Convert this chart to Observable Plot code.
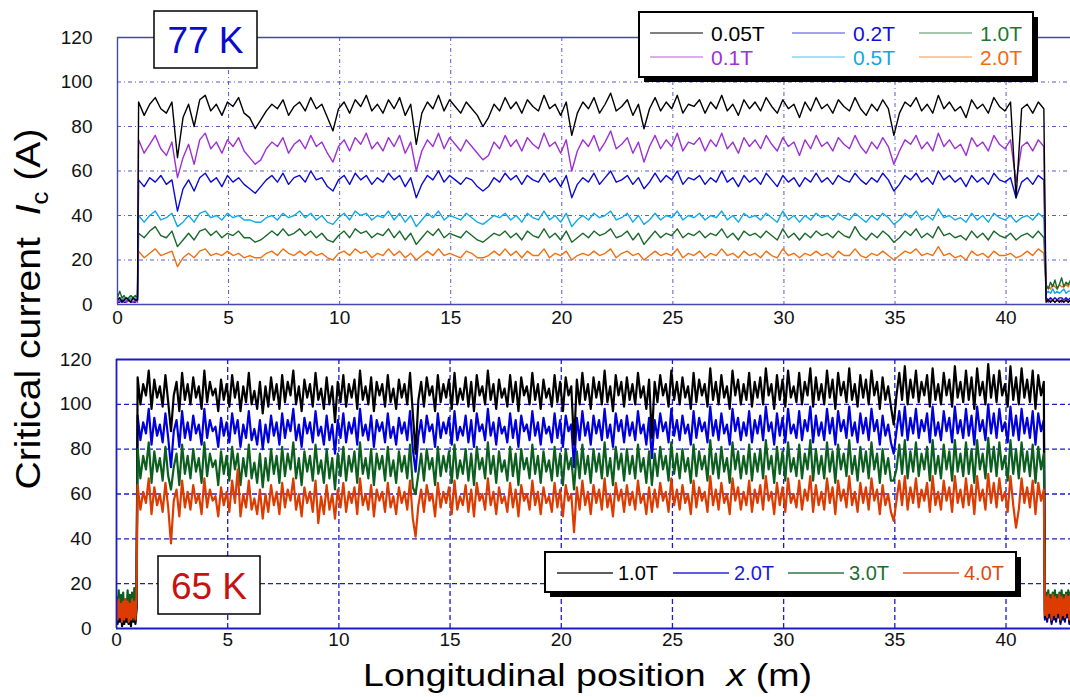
<!DOCTYPE html>
<html><head><meta charset="utf-8">
<script src="https://cdn.jsdelivr.net/npm/d3@7"></script>
<script src="https://cdn.jsdelivr.net/npm/@observablehq/plot@0.6"></script>
<style>
body{margin:0;background:#fff;font-family:Arial,"Liberation Sans",sans-serif;}
#wrap{position:relative;width:1070px;height:697px;overflow:hidden;background:#fff;}
#wrap svg{position:absolute;left:0;}
</style></head><body><div id="wrap"></div>
<script>
// ---------- axis ticks ----------
const xTicks = [0,5,10,15,20,25,30,35,40];
const yTicks = [0,20,40,60,80,100,120];
const xGridVals = [5,10,15,20,25,30,35,40];
const yGridVals = [20,40,60,80,100];

// ---------- 77 K panel: sampling grid (lead / main / tail) ----------
const top77Lead = {start: 0, step: 0.1, n: 10};
const top77Main = {start: 0.95, step: 0.25, n: 164};
const top77Tail = {start: 41.8, step: 0.1, n: 13};

// 77 K series (lead 10 + main 164 + tail 13 values)
const t77_005 = [2,3,1,2,3,2,1,3,2,2,
91,85,90,93,88,86,91,66,84,90, 80,92,94,87,90,85,91,89,93,86, 84,79,83,87,90,88,92,85,89,91, 87,93,88,90,84,78,88,91,86,92,
89,94,87,90,86,92,88,93,85,90, 72,86,91,88,94,87,92,89,86,91, 88,85,80,84,90,87,93,88,91,86, 92,89,87,94,88,90,85,91,76,86,
91,88,93,86,90,95,87,89,92,85, 90,79,88,93,87,91,88,94,86,90, 89,92,86,91,88,94,87,90,85,92, 88,91,87,93,89,86,92,88,90,84,
91,87,93,88,90,86,92,89,87,93, 88,85,90,87,92,88,76,86,91,89, 93,87,90,86,94,88,91,87,89,84, 92,88,90,86,93,89,87,91,48,88,
90,86,91,88,
1,2,1,2,1,2,1,2,1,2,1,2,1];
const t77_01 = [1,2,1,2,1,2,1,1,2,1,
74,68,72,76,70,67,73,57,66,72, 63,74,77,70,73,68,74,71,75,69, 66,63,65,70,73,71,75,68,72,74, 70,76,71,73,68,64,71,74,69,75,
72,77,70,73,69,75,71,76,68,73, 60,69,74,71,77,70,75,72,69,74, 71,68,65,67,73,70,76,71,74,69, 75,72,70,77,71,73,68,74,60,69,
74,71,76,69,73,78,70,72,75,68, 73,64,71,76,70,74,71,77,69,73, 72,75,69,74,71,77,70,73,68,75, 71,74,70,76,72,69,75,71,73,67,
74,70,76,71,73,69,75,72,70,76, 71,68,73,70,75,71,63,69,74,72, 76,70,73,69,77,71,74,70,72,67, 75,71,73,69,76,72,70,74,55,71,
73,69,74,71,
2,1,2,2,1,2,2,1,2,2,1,2,2];
const t77_02 = [1,1,2,1,1,2,1,1,1,2,
56,53,57,55,58,54,56,42,52,56, 51,57,59,55,57,53,58,55,57,54, 52,50,53,56,58,55,59,54,57,58, 55,60,56,57,53,51,56,58,54,59,
56,58,54,57,55,59,56,58,53,57, 48,54,58,56,60,55,58,56,54,57, 56,53,51,53,57,55,59,56,58,54, 58,56,55,59,55,57,53,58,48,54,
57,55,59,54,57,60,55,56,58,54, 57,52,55,59,55,58,56,60,54,57, 56,58,54,57,55,60,55,57,53,58, 55,57,54,59,56,53,58,55,57,53,
57,55,59,55,57,54,58,56,55,59, 56,54,57,55,59,56,51,54,58,56, 59,55,57,54,60,56,58,55,57,53, 58,55,57,54,59,56,55,57,48,55,
57,54,58,56,
3,2,3,2,3,2,3,3,2,3,2,3,3];
const t77_05 = [2,3,2,3,2,2,3,2,3,2,
40,37,40,42,38,39,41,35,37,40, 37,41,42,39,40,38,41,39,40,38, 38,37,37,39,40,38,41,39,40,42, 39,41,38,40,37,36,39,41,38,42,
40,41,38,40,39,42,38,41,37,40, 35,38,41,39,42,38,40,39,38,41, 39,37,36,38,40,39,41,38,40,37, 41,39,38,42,38,40,37,41,35,38,
40,38,41,39,40,42,38,39,41,37, 40,36,38,41,38,40,39,42,38,40, 39,41,38,40,39,42,38,40,37,41, 39,40,38,41,39,37,42,38,40,37,
40,38,41,39,40,38,41,39,38,41, 39,37,40,38,41,39,36,38,41,39, 42,38,40,38,43,39,40,38,39,37, 41,38,40,37,41,39,38,40,37,39,
40,38,41,39,
5,6,5,7,5,6,5,6,7,5,6,6,7];
const t77_10 = [3,6,3,4,2,3,4,3,4,3,
32,30,33,35,31,30,33,26,29,32, 29,33,34,31,33,30,32,31,33,30, 30,28,29,31,33,31,34,31,32,34, 31,33,30,32,29,28,31,33,30,34,
32,33,30,32,31,34,30,33,29,32, 27,30,33,31,34,30,32,31,30,33, 31,29,28,30,32,31,33,30,32,29, 33,31,30,34,30,32,29,33,28,30,
32,30,33,31,32,34,30,31,33,29, 32,27,30,33,30,32,31,34,30,32, 31,33,30,32,31,34,30,32,29,33, 31,32,30,33,31,29,34,30,32,29,
32,30,33,31,32,30,33,31,30,35, 31,29,32,30,33,31,28,30,33,31, 34,30,32,30,35,31,32,30,31,29, 33,30,32,29,33,31,30,32,29,31,
32,30,33,30,
9,7,10,8,11,7,9,12,8,10,9,11,12];
const t77_20 = [2,3,2,3,2,3,2,3,2,3,
24,21,23,25,22,23,24,17,21,23, 21,24,25,22,23,22,24,22,23,21, 22,21,21,23,24,22,25,23,22,24, 22,24,22,23,21,20,23,24,22,25,
23,24,21,23,22,25,22,24,21,23, 20,22,24,22,25,22,23,22,21,24, 23,21,21,22,24,22,25,22,24,21, 24,22,22,25,21,23,22,24,20,22,
23,22,24,22,23,25,21,23,24,22, 23,20,22,24,22,23,22,25,21,23, 22,24,21,23,22,25,22,23,21,24, 22,23,21,24,22,21,25,22,23,21,
23,22,24,22,23,21,24,22,22,25, 22,21,23,22,24,22,20,22,24,23, 25,22,23,22,26,22,23,21,22,20, 24,22,23,21,24,22,22,23,21,22,
24,22,25,23,
7,8,7,9,8,7,9,8,8,9,8,10,11];

// ---------- 65 K panel: sampling grid ----------
const bot65Lead = {start: 0, step: 0.05, n: 19};
const bot65Main = {start: 0.95, step: 0.125, n: 327};
const bot65Tail = {start: 41.75, step: 0.05, n: 26};

// 65 K series (lead 19 + main 327 + tail 26 values)
const b65_10 = [8,2,10,3,9,1,7,2,10,3,8,2,9,1,10,3,8,2,9,
112,100,109,104,115,98,111,103,108,99, 113,101,88,104,110,97,114,102,109,100, 112,103,108,98,115,101,110,104,107,97, 111,102,109,99,113,103,110,97,108,101,
114,100,106,98,110,96,108,99,112,102, 109,98,113,101,110,104,115,100,108,97, 111,103,109,99,114,102,107,98,112,100, 108,92,110,101,113,99,109,103,111,98,
115,102,108,100,112,97,110,104,109,99, 113,101,107,98,111,103,109,100,114,96, 78,102,110,99,112,104,108,97,113,101, 109,103,111,98,114,100,107,102,112,99,
110,97,113,104,108,100,115,102,109,98, 111,103,107,99,113,101,110,97,112,104, 108,100,114,102,109,98,111,103,107,99, 113,101,110,97,112,104,108,82,111,100,
114,102,109,98,112,103,110,100,115,101, 108,97,113,104,110,99,112,102,109,100, 114,103,108,98,111,85,110,101,113,104, 109,99,115,102,110,100,112,103,108,98,
114,101,111,104,109,99,116,102,110,100, 113,103,108,98,115,104,111,100,109,102, 114,99,110,103,112,100,116,104,109,98, 113,102,111,99,115,103,108,101,114,100,
110,104,116,99,112,102,109,100,115,103, 111,98,114,104,110,101,116,102,109,99, 113,103,111,100,115,104,110,98,112,102, 108,99,91,104,114,102,117,100,111,103,
115,101,110,104,113,99,116,102,109,100, 114,104,111,99,117,103,110,101,115,102, 112,98,116,104,110,100,118,103,113,101, 115,104,109,99,117,102,112,100,116,103,
111,101,115,98,113,104,110,
5,12,4,13,6,11,3,12,5,13,4,11,6,12,3,13,5,11,4,12,6,13,3,12,5,10];
const b65_20 = [10,3,12,4,11,2,13,3,12,4,10,2,12,3,11,4,13,3,10,
95,84,92,87,98,82,94,86,91,83, 96,85,72,88,93,81,97,85,92,84, 95,87,91,82,98,85,93,88,90,81, 94,86,92,83,96,87,93,81,91,85,
97,84,89,82,93,80,91,83,95,86, 92,82,96,85,93,88,98,84,91,81, 94,87,92,83,97,86,90,82,95,84, 91,78,93,85,96,83,92,87,94,82,
98,86,91,84,95,81,93,88,92,83, 96,85,90,82,94,87,92,84,97,80, 70,86,93,83,95,88,91,81,96,85, 92,87,94,82,97,84,90,86,95,83,
93,81,96,88,91,84,98,86,92,82, 94,87,90,83,96,85,93,81,95,88, 91,84,97,86,92,82,94,87,90,83, 96,85,93,81,95,88,91,72,94,84,
97,86,92,82,95,87,93,84,98,85, 91,81,96,88,93,83,95,86,92,84, 97,87,91,82,94,76,93,85,96,88, 92,83,98,86,93,84,95,87,91,82,
97,85,94,88,92,83,99,86,93,84, 96,87,91,82,98,88,94,84,92,86, 97,83,93,87,95,84,99,88,92,82, 96,86,94,83,98,87,91,85,97,84,
93,88,99,83,95,86,92,84,98,87, 94,82,97,88,93,85,99,86,92,83, 96,87,94,84,98,88,93,82,95,86, 91,83,78,88,97,86,99,84,94,87,
98,85,93,88,96,83,99,86,92,84, 97,88,94,83,99,87,93,85,98,86, 95,82,99,88,93,84,100,87,96,85, 98,88,92,83,99,86,95,84,98,87,
94,85,97,82,96,88,93,
4,10,3,11,5,9,2,10,4,11,3,9,5,10,2,11,4,9,3,10,5,11,2,10,4,9];
const b65_30 = [14,5,17,6,15,4,16,5,13,6,17,5,15,6,16,4,18,6,24,
80,67,77,71,83,65,79,70,76,66, 81,68,62,72,78,64,82,69,77,67, 80,70,76,65,83,68,78,72,75,64, 79,69,77,66,81,71,78,64,76,68,
82,67,74,65,78,63,76,66,80,69, 77,65,81,68,78,71,83,67,76,64, 79,70,77,66,82,69,75,65,80,67, 76,62,78,68,81,66,77,70,79,65,
83,69,76,67,80,64,78,71,77,66, 81,68,75,65,79,70,77,67,82,63, 60,69,78,66,80,71,76,64,81,68, 77,70,79,65,82,67,75,69,80,66,
78,64,81,71,76,67,83,69,77,65, 79,70,75,66,81,68,78,64,80,71, 76,67,82,69,77,65,79,70,75,66, 81,68,78,64,80,71,76,62,79,67,
82,69,77,65,80,70,78,67,83,68, 76,64,81,71,78,66,80,69,77,67, 82,70,76,65,79,64,78,68,81,71, 77,66,83,69,78,67,80,70,76,65,
82,68,79,71,77,66,84,69,78,67, 81,70,76,65,83,71,79,67,77,69, 82,66,78,70,80,67,84,71,77,65, 81,69,79,66,83,70,76,68,82,67,
78,71,84,66,80,69,77,67,83,70, 79,65,82,71,78,68,84,69,77,66, 81,70,79,67,83,71,78,65,80,69, 76,66,66,71,82,69,84,67,79,70,
83,68,78,71,81,66,84,69,77,67, 82,71,79,66,84,70,78,68,83,69, 80,65,84,71,78,67,85,70,81,68, 83,71,77,66,84,69,80,67,83,70,
79,68,82,65,81,71,78,
7,16,6,17,8,15,5,16,7,17,6,15,8,16,5,17,7,15,6,16,8,17,5,16,3,14];
const b65_40 = [12,4,13,5,11,3,12,4,13,5,12,3,11,4,13,5,12,4,14,
64,53,61,56,67,51,63,55,60,52, 65,54,38,57,62,50,66,54,61,53, 64,56,60,51,67,54,62,57,59,50, 63,55,61,52,66,56,71,50,60,54,
66,53,58,51,62,49,60,52,64,55, 61,51,65,54,62,57,67,53,60,50, 63,56,61,52,66,47,59,51,64,53, 60,49,62,54,65,52,61,56,63,51,
67,55,60,53,64,50,62,57,61,52, 65,54,59,51,63,56,61,53,66,49, 41,55,62,52,64,57,60,50,65,54, 61,56,63,51,66,53,59,55,64,52,
62,50,65,57,60,53,67,55,61,51, 63,56,59,52,65,54,62,50,64,57, 60,53,66,55,61,51,63,56,59,52, 65,54,62,50,64,57,60,43,63,53,
66,55,61,51,64,56,62,53,67,54, 60,50,65,57,62,52,64,55,61,53, 66,56,60,51,63,52,62,54,65,57, 61,52,67,55,62,53,64,56,60,51,
66,54,63,57,61,52,68,55,62,53, 65,56,60,51,67,57,63,53,61,55, 66,52,62,56,64,53,68,57,61,51, 65,55,63,52,67,56,60,54,66,53,
62,57,68,52,64,55,61,53,67,56, 63,51,66,57,62,54,68,55,61,52, 65,56,63,53,67,57,62,51,64,55, 60,52,48,57,66,55,68,53,63,56,
67,54,62,57,65,52,68,55,61,53, 66,57,63,52,68,56,62,54,67,55, 64,51,68,57,62,53,69,56,65,54, 67,57,61,52,68,55,45,53,67,56,
63,54,66,51,65,57,62,
6,14,5,15,7,13,4,15,6,14,5,13,7,15,4,14,6,13,5,15,7,14,4,15,6,12];

// ---------- series meta ----------
const top77Labels = ["0.05T","0.1T","0.2T","0.5T","1.0T","2.0T"];
const top77Colors = ["#000000","#9c2fd6","#0a0ad2","#12a9e6","#17682a","#f0700f"];
const bot65Labels = ["1.0T","2.0T","3.0T","4.0T"];
const bot65Colors = ["#000000","#0000dc","#0b5e1e","#dc3c02"];

// ---------- helpers ----------
function samplePositions(...segs){
  const out = [];
  for (const s of segs) for (let i = 0; i < s.n; i++) out.push(+(s.start + i*s.step).toFixed(4));
  return out;
}
const xTop = samplePositions(top77Lead, top77Main, top77Tail);
const xBot = samplePositions(bot65Lead, bot65Main, bot65Tail);
const topSeries = [t77_005, t77_01, t77_02, t77_05, t77_10, t77_20];
const botSeries = [b65_10, b65_20, b65_30, b65_40];

const wrap = document.getElementById("wrap");
const font = "Arial, 'Liberation Sans', sans-serif";

// ---------- 77 K panel ----------
const topGrid = "#5a5acb", topFrame = "#4646b2";
const topOrder = [5,4,3,2,1,0];
const topPlot = Plot.plot({
  width: 1070, height: 330,
  marginLeft: 117, marginRight: 0, marginTop: 37, marginBottom: 26,
  x: {domain: [0, 42.9], ticks: xTicks, tickSize: 0, tickPadding: 6, label: null},
  y: {domain: [0, 120], ticks: yTicks, tickSize: 0, tickPadding: 25, label: null},
  style: {fontFamily: font, fontSize: "19px", color: "#111", background: "transparent", overflow: "visible"},
  marks: [
    Plot.ruleY(yGridVals, {stroke: topGrid, strokeWidth: 1, strokeDasharray: "4,3,1,3"}),
    Plot.ruleX(xGridVals, {stroke: topGrid, strokeWidth: 1, strokeDasharray: "4,3,1,3"}),
    ...topOrder.map(k => Plot.lineY(topSeries[k], {x: xTop, stroke: top77Colors[k], strokeWidth: 1.4, clip: true})),
    Plot.ruleY([0, 120], {stroke: topFrame, strokeWidth: 1.4}),
    Plot.ruleX([0], {stroke: topFrame, strokeWidth: 1.4})
  ]
});
topPlot.style.top = "0px";
wrap.appendChild(topPlot);

// ---------- 65 K panel ----------
const botGrid = "#1c1ccc", botFrame = "#1a1ac8";
const botOrder = [1,0,2,3];
const botPlot = Plot.plot({
  width: 1070, height: 320,
  marginLeft: 116, marginRight: 0, marginTop: 29, marginBottom: 22,
  x: {domain: [0, 42.9], ticks: xTicks, tickSize: 0, tickPadding: 4, label: null},
  y: {domain: [0, 120], ticks: yTicks, tickSize: 0, tickPadding: 25, label: null},
  style: {fontFamily: font, fontSize: "19px", color: "#111", background: "transparent", overflow: "visible"},
  marks: [
    Plot.ruleY(yGridVals, {stroke: botGrid, strokeWidth: 1.3, strokeDasharray: "5,3"}),
    Plot.ruleX(xGridVals, {stroke: botGrid, strokeWidth: 1.3, strokeDasharray: "5,3"}),
    ...botOrder.map(k => Plot.lineY(botSeries[k], {x: xBot, stroke: bot65Colors[k], strokeWidth: 2.2, clip: true})),
    Plot.ruleY([0, 120], {stroke: botFrame, strokeWidth: 1.8}),
    Plot.ruleX([0], {stroke: botFrame, strokeWidth: 1.8})
  ]
});
botPlot.style.top = "330px";
wrap.appendChild(botPlot);

// ---------- overlay: boxes, legends, titles ----------
const ov = d3.select(wrap).append("svg")
  .attr("width", 1070).attr("height", 697)
  .style("top", "0px").style("pointer-events", "none")
  .style("font-family", font);

function labelBox(x, y, w, h, text, color){
  ov.append("rect").attr("x", x).attr("y", y).attr("width", w).attr("height", h)
    .attr("fill", "#fff").attr("stroke", "#000").attr("stroke-width", 1.5);
  ov.append("text").attr("x", x + w/2).attr("y", y + h - 15).attr("text-anchor", "middle")
    .attr("font-size", 37).attr("fill", color).text(text);
}
labelBox(154, 11, 103, 57, "77 K", "#0a0ad0");
labelBox(158, 556, 102, 58, "65 K", "#c81212");

function shadowBox(x, y, w, h){
  ov.append("rect").attr("x", x + 5).attr("y", y + 5).attr("width", w).attr("height", h).attr("fill", "#000");
  ov.append("rect").attr("x", x).attr("y", y).attr("width", w).attr("height", h)
    .attr("fill", "#fff").attr("stroke", "#000").attr("stroke-width", 2);
}

// top legend
shadowBox(639, 12, 394, 65);
const topLegendPos = [[650,33],[650,57],[792,33],[792,57],[919,33],[919,57]];
const topLegendOrder = [0,1,2,3,4,5];
const topTextColors = ["#000000","#a030d8","#1010dc","#10a8e2","#1b7a2e","#f06a10"];
topLegendOrder.forEach((k, j) => {
  const [lx, ly] = topLegendPos[j];
  ov.append("line").attr("x1", lx).attr("x2", lx + 53).attr("y1", ly).attr("y2", ly)
    .attr("stroke", top77Colors[k]).attr("stroke-width", 1.2).attr("stroke-opacity", k === 0 ? 1 : 0.75);
  ov.append("text").attr("x", lx + 61).attr("y", ly + 8).attr("font-size", 21)
    .attr("fill", topTextColors[k]).text(top77Labels[k]);
});

// bottom legend
shadowBox(545, 552, 471, 40);
const botLegendX = [557, 673, 788, 903];
const botTextColors = ["#000000","#1a1ae0","#1d6e2e","#e04a10"];
bot65Labels.forEach((lab, k) => {
  const lx = botLegendX[k];
  ov.append("line").attr("x1", lx).attr("x2", lx + 56).attr("y1", 573).attr("y2", 573)
    .attr("stroke", bot65Colors[k]).attr("stroke-width", 1.3).attr("stroke-opacity", 0.85);
  ov.append("text").attr("x", lx + 61).attr("y", 580).attr("font-size", 20)
    .attr("fill", botTextColors[k]).text(lab);
});

// x title
const xt = ov.append("text").attr("x", 363).attr("y", 686).attr("font-size", 32).attr("fill", "#000")
  .attr("textLength", 449).attr("lengthAdjust", "spacingAndGlyphs").style("white-space", "pre");
xt.append("tspan").text("Longitudinal position  ");
xt.append("tspan").attr("font-style", "italic").text("x");
xt.append("tspan").text(" (m)");

// y title
const yt = ov.append("text").attr("transform", "translate(40,309) rotate(-90)")
  .attr("text-anchor", "middle").attr("font-size", 35).attr("fill", "#000")
  .attr("textLength", 361).attr("lengthAdjust", "spacingAndGlyphs").style("white-space", "pre");
yt.append("tspan").text("Critical current  ");
yt.append("tspan").attr("font-style", "italic").text("I");
yt.append("tspan").attr("font-size", 23).attr("dy", 8).text("c");
yt.append("tspan").attr("dy", -8).text(" (A)");
</script>
</body></html>
